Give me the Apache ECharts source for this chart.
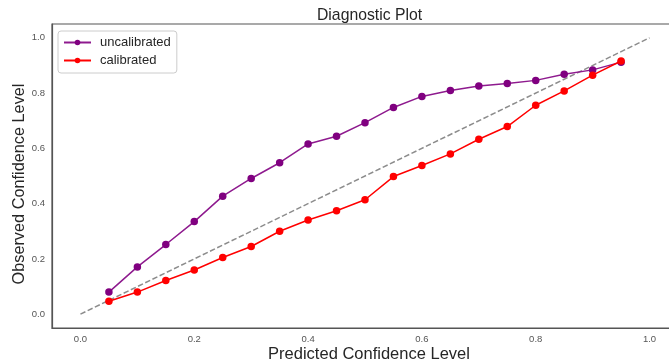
<!DOCTYPE html>
<html>
<head>
<meta charset="utf-8">
<script src="https://cdn.jsdelivr.net/npm/echarts@6/dist/echarts.min.js"></script>
<style>
html,body{margin:0;padding:0;background:#fff;}
#chart{width:669px;height:363px;}
</style>
</head>
<body>
<div id="chart"></div>
<script>
const predicted = [0.05,0.10,0.15,0.20,0.25,0.30,0.35,0.40,0.45,0.50,0.55,0.60,0.65,0.70,0.75,0.80,0.85,0.90,0.95];
const uncalibrated = [0.080,0.171,0.252,0.335,0.427,0.491,0.548,0.616,0.644,0.693,0.748,0.788,0.809,0.826,0.835,0.846,0.868,0.884,0.912];
const calibrated = [0.047,0.080,0.122,0.160,0.205,0.245,0.300,0.341,0.374,0.414,0.498,0.538,0.580,0.633,0.679,0.756,0.808,0.865,0.916];
const diagonalX = [0.0, 1.0];
const diagonalY = [0.0, 1.0];

const font = '"Liberation Sans", Arial, sans-serif';
const pairs = (xs, ys) => xs.map((x, i) => [x, ys[i]]);
const fmt = v => {
  const k = v / 0.2;
  if (Math.abs(k - Math.round(k)) < 1e-6 && v > -0.01 && v < 1.01) return (Math.round(k) * 0.2).toFixed(1);
  return '';
};

const chart = echarts.init(document.getElementById('chart'));
chart.setOption({
  animation: false,
  backgroundColor: '#fff',
  title: {
    text: 'Diagnostic Plot',
    left: 312, top: 3,
    textStyle: {fontFamily: font, fontSize: 15.75, fontWeight: 'normal', color: '#262626'}
  },
  grid: {left: 52, top: 24, width: 626, height: 304, outerBoundsMode: 'none', containLabel: false, show: true, borderColor: '#555', borderWidth: 1.2, backgroundColor: 'transparent'},
  legend: {
    left: 58, top: 31, orient: 'vertical',
    itemWidth: 27, itemHeight: 7, itemGap: 5,
    padding: [5, 6, 6, 5],
    borderColor: '#ccc', borderWidth: 1, borderRadius: 3, backgroundColor: '#fff',
    textStyle: {fontFamily: font, fontSize: 13, color: '#262626', padding: [0, 0, 0, 4]},
    data: ['uncalibrated', 'calibrated']
  },
  xAxis: {
    type: 'value', min: -0.05, max: 1.05, interval: 0.05,
    name: 'Predicted Confidence Level', nameLocation: 'middle', nameGap: 18, nameMoveOverlap: false,
    nameTextStyle: {fontFamily: font, fontSize: 16.5, color: '#262626', padding: [0, 0, 0, 8]},
    axisLine: {show: true, onZero: false, lineStyle: {color: '#555', width: 1.2}},
    axisTick: {show: false}, splitLine: {show: false},
    axisLabel: {formatter: fmt, fontFamily: font, fontSize: 9.5, color: '#555', margin: 6, showMinLabel: true, showMaxLabel: true}
  },
  yAxis: {
    type: 'value', min: -0.05, max: 1.05, interval: 0.05,
    name: 'Observed Confidence Level', nameLocation: 'middle', nameGap: 24, nameMoveOverlap: false,
    nameTextStyle: {fontFamily: font, fontSize: 16.3, color: '#262626', padding: [0, 16, 0, 0]},
    axisLine: {show: true, onZero: false, lineStyle: {color: '#555', width: 1.2}},
    axisTick: {show: false}, splitLine: {show: false},
    axisLabel: {formatter: fmt, fontFamily: font, fontSize: 9.5, color: '#555', margin: 7, showMinLabel: true, showMaxLabel: true}
  },
  series: [
    {
      name: 'diagonal', type: 'line', data: pairs(diagonalX, diagonalY),
      symbol: 'none', silent: true,
      lineStyle: {color: '#8c8c8c', width: 1.5, type: [5.5, 2.5]}, z: 1
    },
    {
      name: 'uncalibrated', type: 'line', data: pairs(predicted, uncalibrated),
      symbol: 'circle', symbolSize: 7.5,
      itemStyle: {color: '#800080'},
      lineStyle: {color: '#8e1a8e', width: 1.5}, z: 2
    },
    {
      name: 'calibrated', type: 'line', data: pairs(predicted, calibrated),
      symbol: 'circle', symbolSize: 7.5,
      itemStyle: {color: '#ff0000'},
      lineStyle: {color: '#ff0000', width: 1.5}, z: 3
    }
  ]
});
</script>
</body>
</html>
